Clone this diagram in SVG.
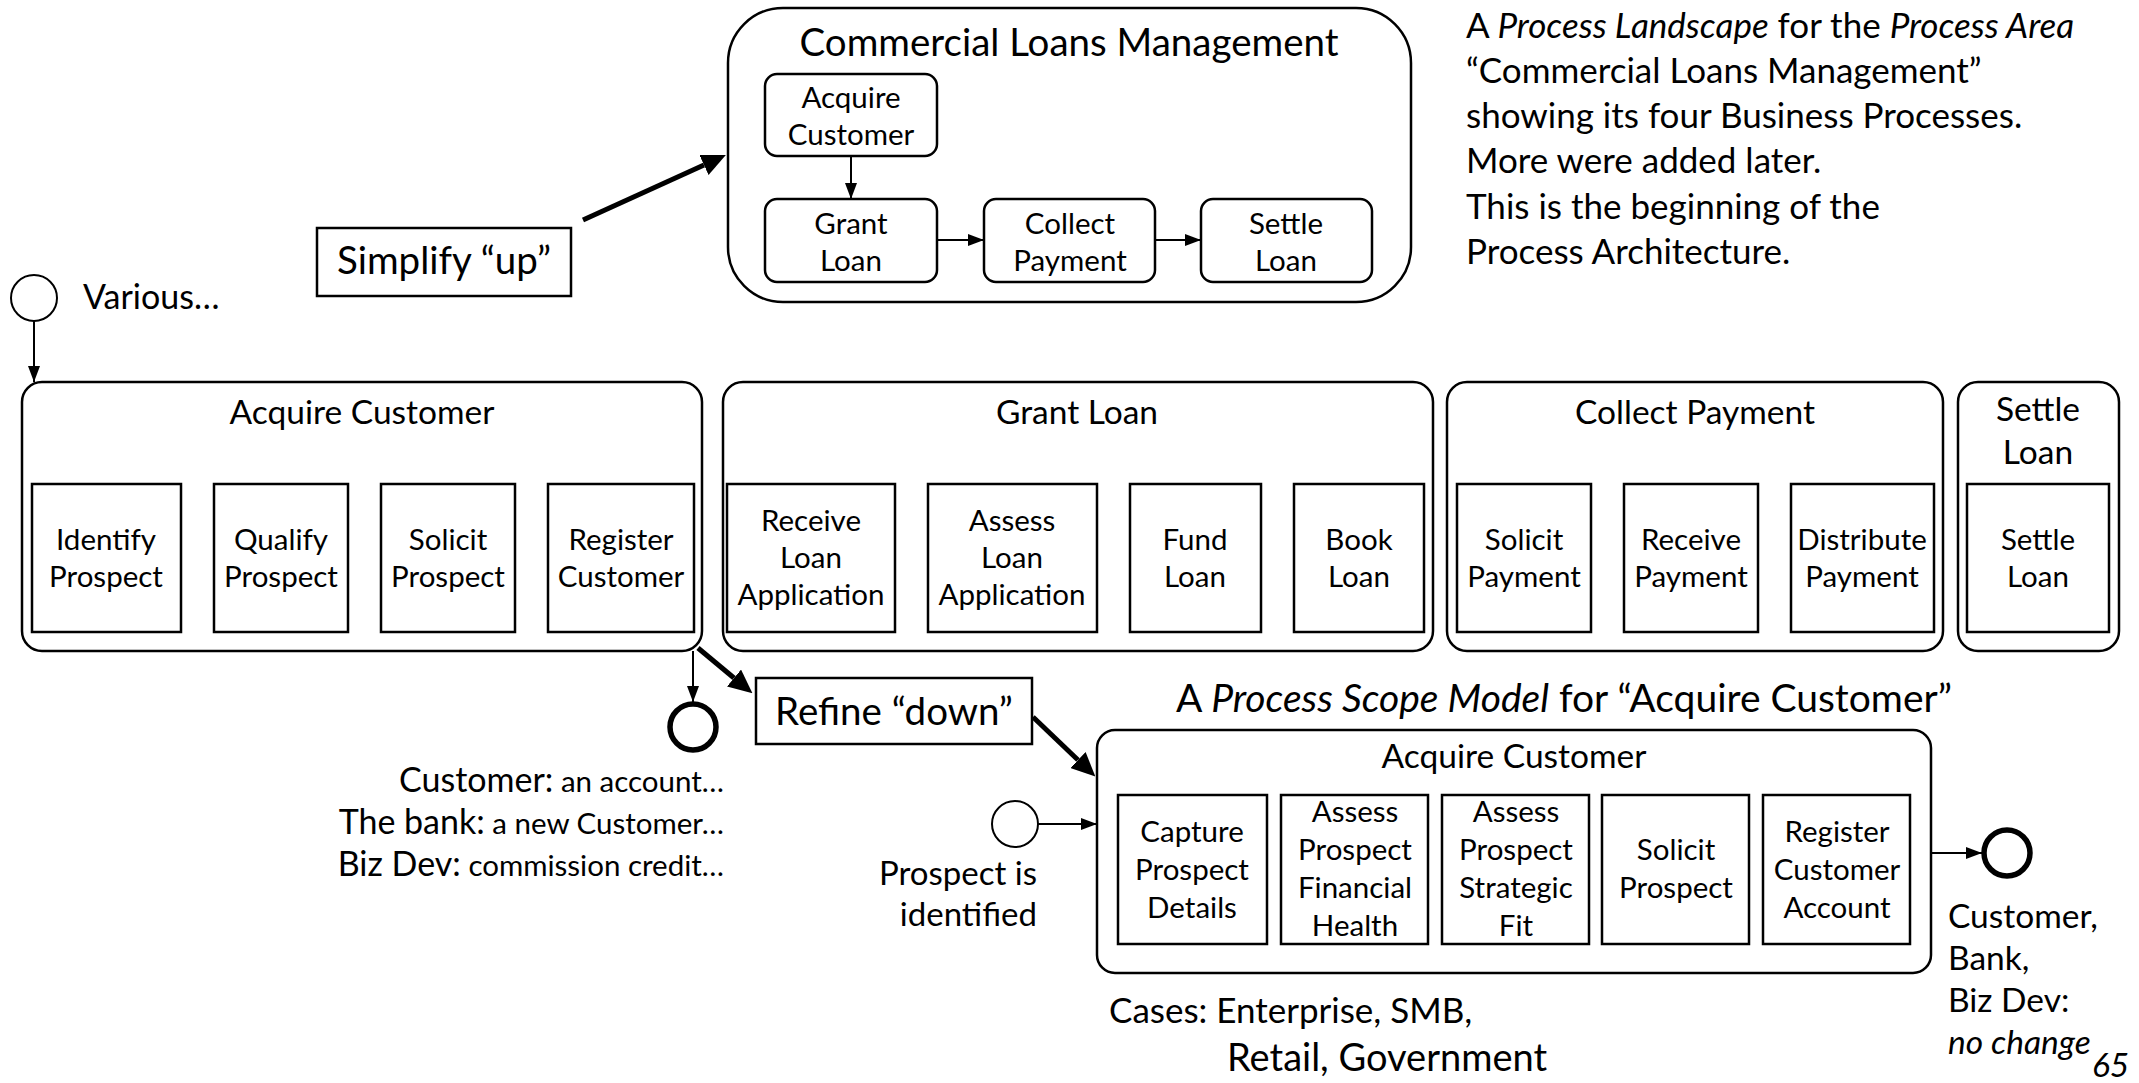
<svg xmlns="http://www.w3.org/2000/svg" width="2139" height="1083" viewBox="0 0 2139 1083">
<style>
text{font-family:Lato,"Open Sans",sans-serif;fill:#000}
.c{text-anchor:middle}
.r{text-anchor:end}
.f32{font-size:29.5px}
.f36{font-size:33.5px}
.f40{font-size:38.5px}
.fn{font-size:35px}
.fb{font-size:34px}
.f31{font-size:29.5px}
.box{fill:#fff;stroke:#000;stroke-width:2.5}
.conn{stroke:#000;stroke-width:2;fill:none}
.thick{stroke:#000;stroke-width:5;fill:none}
.ev{fill:#fff;stroke:#000;stroke-width:2}
.end{fill:#fff;stroke:#000;stroke-width:5.5}
.it{font-style:italic}
</style>
<defs>
<marker id="ah" markerUnits="userSpaceOnUse" markerWidth="16" markerHeight="12" refX="16" refY="6" orient="auto"><path d="M0,0 L16,6 L0,12 z" fill="#000"/></marker>
<marker id="ahb" markerUnits="userSpaceOnUse" markerWidth="24" markerHeight="22" refX="0" refY="11" orient="auto"><path d="M0,0 L24,11 L0,22 z" fill="#000"/></marker>
</defs>
<rect width="2139" height="1083" fill="#fff"/>

<g id="clm">
<rect class="box" x="728" y="8" width="683" height="294" rx="55"/>
<text class="c f40" x="1069" y="56">Commercial Loans Management</text>
</g>
<g id="clm-acquire">
<rect class="box" x="765" y="74" width="172" height="82" rx="12"/>
<text class="c f32" x="851" y="108">Acquire</text>
<text class="c f32" x="851" y="145">Customer</text>
</g>
<g id="clm-grant">
<rect class="box" x="765" y="199" width="172" height="83" rx="12"/>
<text class="c f32" x="851" y="234">Grant</text>
<text class="c f32" x="851" y="271">Loan</text>
</g>
<g id="clm-collect">
<rect class="box" x="984" y="199" width="171" height="83" rx="12"/>
<text class="c f32" x="1070" y="234">Collect</text>
<text class="c f32" x="1070" y="271">Payment</text>
</g>
<g id="clm-settle">
<rect class="box" x="1201" y="199" width="171" height="83" rx="12"/>
<text class="c f32" x="1286" y="234">Settle</text>
<text class="c f32" x="1286" y="271">Loan</text>
</g>

<g id="note">
<text class="fn" x="1466" y="38">A <tspan class="it">Process Landscape</tspan> for the <tspan class="it">Process Area</tspan></text>
<text class="fn" x="1466" y="83">“Commercial Loans Management”</text>
<text class="fn" x="1466" y="128">showing its four Business Processes.</text>
<text class="fn" x="1466" y="173">More were added later.</text>
<text class="fn" x="1466" y="219">This is the beginning of the</text>
<text class="fn" x="1466" y="264">Process Architecture.</text>
</g>

<g id="simplify">
<rect class="box" x="317" y="228" width="254" height="68"/>
<text class="c f40" x="444" y="274">Simplify “up”</text>
</g>

<g id="various">
<circle class="ev" cx="34" cy="298" r="23"/>
<text class="fb" x="83" y="309">Various…</text>
</g>

<g id="acquire">
<rect class="box" x="22" y="382" width="680" height="269" rx="20"/>
<text class="c f36" x="362" y="424">Acquire Customer</text>
<rect class="box" x="32" y="484" width="149" height="148"/>
<text class="c f32" x="106" y="550">Identify</text><text class="c f32" x="106" y="587">Prospect</text>
<rect class="box" x="214" y="484" width="134" height="148"/>
<text class="c f32" x="281" y="550">Qualify</text><text class="c f32" x="281" y="587">Prospect</text>
<rect class="box" x="381" y="484" width="134" height="148"/>
<text class="c f32" x="448" y="550">Solicit</text><text class="c f32" x="448" y="587">Prospect</text>
<rect class="box" x="548" y="484" width="146" height="148"/>
<text class="c f32" x="621" y="550">Register</text><text class="c f32" x="621" y="587">Customer</text>
</g>

<g id="grant">
<rect class="box" x="723" y="382" width="710" height="269" rx="20"/>
<text class="c f36" x="1077" y="424">Grant Loan</text>
<rect class="box" x="727" y="484" width="168" height="148"/>
<text class="c f32" x="811" y="531">Receive</text><text class="c f32" x="811" y="568">Loan</text><text class="c f32" x="811" y="605">Application</text>
<rect class="box" x="928" y="484" width="169" height="148"/>
<text class="c f32" x="1012" y="531">Assess</text><text class="c f32" x="1012" y="568">Loan</text><text class="c f32" x="1012" y="605">Application</text>
<rect class="box" x="1130" y="484" width="131" height="148"/>
<text class="c f32" x="1195" y="550">Fund</text><text class="c f32" x="1195" y="587">Loan</text>
<rect class="box" x="1294" y="484" width="130" height="148"/>
<text class="c f32" x="1359" y="550">Book</text><text class="c f32" x="1359" y="587">Loan</text>
</g>

<g id="collect">
<rect class="box" x="1447" y="382" width="496" height="269" rx="20"/>
<text class="c f36" x="1695" y="424">Collect Payment</text>
<rect class="box" x="1457" y="484" width="134" height="148"/>
<text class="c f32" x="1524" y="550">Solicit</text><text class="c f32" x="1524" y="587">Payment</text>
<rect class="box" x="1624" y="484" width="134" height="148"/>
<text class="c f32" x="1691" y="550">Receive</text><text class="c f32" x="1691" y="587">Payment</text>
<rect class="box" x="1791" y="484" width="143" height="148"/>
<text class="c f32" x="1862" y="550">Distribute</text><text class="c f32" x="1862" y="587">Payment</text>
</g>

<g id="settle">
<rect class="box" x="1958" y="382" width="161" height="269" rx="20"/>
<text class="c f36" x="2038" y="421">Settle</text>
<text class="c f36" x="2038" y="464">Loan</text>
<rect class="box" x="1967" y="484" width="142" height="148"/>
<text class="c f32" x="2038" y="550">Settle</text><text class="c f32" x="2038" y="587">Loan</text>
</g>

<g id="acquire-end">
<circle class="end" cx="693" cy="727" r="23"/>
<text class="r" x="724" y="792"><tspan class="fb">Customer:</tspan><tspan class="f31"> an account…</tspan></text>
<text class="r" x="724" y="834"><tspan class="fb">The bank:</tspan><tspan class="f31"> a new Customer…</tspan></text>
<text class="r" x="724" y="876"><tspan class="fb">Biz Dev:</tspan><tspan class="f31"> commission credit…</tspan></text>
</g>

<g id="refine">
<rect class="box" x="756" y="678" width="276" height="66"/>
<text class="c f40" x="894" y="725">Refine “down”</text>
</g>

<g id="prospect-start">
<circle class="ev" cx="1015" cy="824" r="23"/>
<text class="r" style="font-size:33px" x="1037" y="885">Prospect is</text>
<text class="r" style="font-size:33px" x="1037" y="926">identified</text>
</g>

<g id="scope">
<text class="c" style="font-size:39px" x="1564" y="712">A <tspan class="it">Process Scope Model</tspan> for “Acquire Customer”</text>
<rect class="box" x="1097" y="730" width="834" height="243" rx="18"/>
<text class="c f36" x="1514" y="768">Acquire Customer</text>
<rect class="box" x="1118" y="795" width="149" height="149"/>
<text class="c f32" x="1192" y="842">Capture</text><text class="c f32" x="1192" y="880">Prospect</text><text class="c f32" x="1192" y="918">Details</text>
<rect class="box" x="1281" y="795" width="147" height="149"/>
<text class="c f32" x="1355" y="822">Assess</text><text class="c f32" x="1355" y="860">Prospect</text><text class="c f32" x="1355" y="898">Financial</text><text class="c f32" x="1355" y="936">Health</text>
<rect class="box" x="1442" y="795" width="147" height="149"/>
<text class="c f32" x="1516" y="822">Assess</text><text class="c f32" x="1516" y="860">Prospect</text><text class="c f32" x="1516" y="898">Strategic</text><text class="c f32" x="1516" y="936">Fit</text>
<rect class="box" x="1602" y="795" width="147" height="149"/>
<text class="c f32" x="1676" y="860">Solicit</text><text class="c f32" x="1676" y="898">Prospect</text>
<rect class="box" x="1763" y="795" width="147" height="149"/>
<text class="c f32" x="1837" y="842">Register</text><text class="c f32" x="1837" y="880">Customer</text><text class="c f32" x="1837" y="918">Account</text>
<text style="font-size:35px" x="1109" y="1023">Cases: Enterprise, SMB,</text>
<text style="font-size:38px" x="1227" y="1071">Retail, Government</text>
</g>

<g id="scope-end">
<circle class="end" cx="2007" cy="853" r="23"/>
<text class="f36" x="1948" y="928">Customer,</text>
<text class="f36" x="1948" y="970">Bank,</text>
<text class="f36" x="1948" y="1012">Biz Dev:</text>
<text class="f36 it" x="1948" y="1054">no change</text>
</g>

<text class="f36 it" x="2092" y="1077">65</text>

<g id="connectors">
<line class="conn" x1="34" y1="321" x2="34" y2="382" marker-end="url(#ah)"/>
<line class="conn" x1="851" y1="156" x2="851" y2="199" marker-end="url(#ah)"/>
<line class="conn" x1="937" y1="240" x2="984" y2="240" marker-end="url(#ah)"/>
<line class="conn" x1="1155" y1="240" x2="1201" y2="240" marker-end="url(#ah)"/>
<line class="conn" x1="693" y1="651" x2="693" y2="702" marker-end="url(#ah)"/>
<line class="conn" x1="1038" y1="824" x2="1097" y2="824" marker-end="url(#ah)"/>
<line class="conn" x1="1931" y1="853" x2="1982" y2="853" marker-end="url(#ah)"/>
<line class="thick" x1="583" y1="220" x2="704" y2="165" marker-end="url(#ahb)"/>
<line class="thick" x1="698" y1="648" x2="734" y2="678" marker-end="url(#ahb)"/>
<line class="thick" x1="1033" y1="717" x2="1078" y2="760" marker-end="url(#ahb)"/>
</g>
</svg>
